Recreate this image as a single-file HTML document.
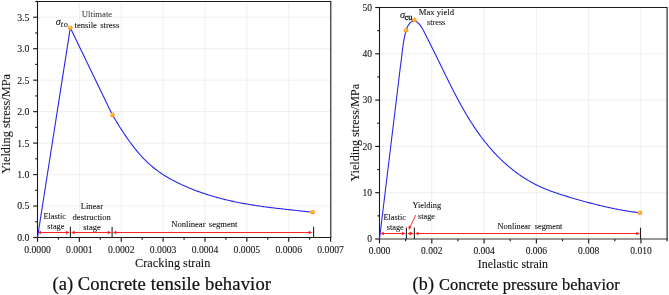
<!DOCTYPE html>
<html><head><meta charset="utf-8"><style>
html,body{margin:0;padding:0;background:#fff;width:669px;height:295px;overflow:hidden}
svg{display:block;will-change:transform}
text{font-family:"Liberation Serif",serif;fill:#111;stroke:#111;stroke-width:0.08px}
.cap{stroke:#111;stroke-width:0.22px}
</style></head><body>
<svg width="669" height="295" viewBox="0 0 669 295">
<defs><radialGradient id="dg" cx="0.4" cy="0.38" r="0.62"><stop offset="0" stop-color="#ffd68a"/><stop offset="0.45" stop-color="#ffa726"/><stop offset="1" stop-color="#ff9800"/></radialGradient></defs>
<rect width="669" height="295" fill="#fff"/>
<line x1="79.37" y1="1.5" x2="79.37" y2="237.5" stroke="#ebebeb" stroke-width="0.8"/>
<line x1="121.24" y1="1.5" x2="121.24" y2="237.5" stroke="#ebebeb" stroke-width="0.8"/>
<line x1="163.11" y1="1.5" x2="163.11" y2="237.5" stroke="#ebebeb" stroke-width="0.8"/>
<line x1="204.99" y1="1.5" x2="204.99" y2="237.5" stroke="#ebebeb" stroke-width="0.8"/>
<line x1="246.86" y1="1.5" x2="246.86" y2="237.5" stroke="#ebebeb" stroke-width="0.8"/>
<line x1="288.73" y1="1.5" x2="288.73" y2="237.5" stroke="#ebebeb" stroke-width="0.8"/>
<line x1="37.5" y1="206.03" x2="330.6" y2="206.03" stroke="#ebebeb" stroke-width="0.8"/>
<line x1="37.5" y1="174.57" x2="330.6" y2="174.57" stroke="#ebebeb" stroke-width="0.8"/>
<line x1="37.5" y1="143.1" x2="330.6" y2="143.1" stroke="#ebebeb" stroke-width="0.8"/>
<line x1="37.5" y1="111.63" x2="330.6" y2="111.63" stroke="#ebebeb" stroke-width="0.8"/>
<line x1="37.5" y1="80.17" x2="330.6" y2="80.17" stroke="#ebebeb" stroke-width="0.8"/>
<line x1="37.5" y1="48.7" x2="330.6" y2="48.7" stroke="#ebebeb" stroke-width="0.8"/>
<line x1="37.5" y1="17.23" x2="330.6" y2="17.23" stroke="#ebebeb" stroke-width="0.8"/>
<line x1="431.79" y1="7.5" x2="431.79" y2="239.0" stroke="#ebebeb" stroke-width="0.8"/>
<line x1="484.08" y1="7.5" x2="484.08" y2="239.0" stroke="#ebebeb" stroke-width="0.8"/>
<line x1="536.37" y1="7.5" x2="536.37" y2="239.0" stroke="#ebebeb" stroke-width="0.8"/>
<line x1="588.66" y1="7.5" x2="588.66" y2="239.0" stroke="#ebebeb" stroke-width="0.8"/>
<line x1="640.95" y1="7.5" x2="640.95" y2="239.0" stroke="#ebebeb" stroke-width="0.8"/>
<line x1="379.5" y1="192.7" x2="667.1" y2="192.7" stroke="#ebebeb" stroke-width="0.8"/>
<line x1="379.5" y1="146.4" x2="667.1" y2="146.4" stroke="#ebebeb" stroke-width="0.8"/>
<line x1="379.5" y1="100.1" x2="667.1" y2="100.1" stroke="#ebebeb" stroke-width="0.8"/>
<line x1="379.5" y1="53.8" x2="667.1" y2="53.8" stroke="#ebebeb" stroke-width="0.8"/>
<line x1="37.5" y1="237.5" x2="37.5" y2="241.7" stroke="#1a1a1a" stroke-width="1.15"/>
<line x1="58.44" y1="237.5" x2="58.44" y2="239.7" stroke="#1a1a1a" stroke-width="1.15"/>
<line x1="79.37" y1="237.5" x2="79.37" y2="241.7" stroke="#1a1a1a" stroke-width="1.15"/>
<line x1="100.31" y1="237.5" x2="100.31" y2="239.7" stroke="#1a1a1a" stroke-width="1.15"/>
<line x1="121.24" y1="237.5" x2="121.24" y2="241.7" stroke="#1a1a1a" stroke-width="1.15"/>
<line x1="142.18" y1="237.5" x2="142.18" y2="239.7" stroke="#1a1a1a" stroke-width="1.15"/>
<line x1="163.11" y1="237.5" x2="163.11" y2="241.7" stroke="#1a1a1a" stroke-width="1.15"/>
<line x1="184.05" y1="237.5" x2="184.05" y2="239.7" stroke="#1a1a1a" stroke-width="1.15"/>
<line x1="204.99" y1="237.5" x2="204.99" y2="241.7" stroke="#1a1a1a" stroke-width="1.15"/>
<line x1="225.92" y1="237.5" x2="225.92" y2="239.7" stroke="#1a1a1a" stroke-width="1.15"/>
<line x1="246.86" y1="237.5" x2="246.86" y2="241.7" stroke="#1a1a1a" stroke-width="1.15"/>
<line x1="267.79" y1="237.5" x2="267.79" y2="239.7" stroke="#1a1a1a" stroke-width="1.15"/>
<line x1="288.73" y1="237.5" x2="288.73" y2="241.7" stroke="#1a1a1a" stroke-width="1.15"/>
<line x1="309.66" y1="237.5" x2="309.66" y2="239.7" stroke="#1a1a1a" stroke-width="1.15"/>
<line x1="330.6" y1="237.5" x2="330.6" y2="241.7" stroke="#1a1a1a" stroke-width="1.15"/>
<line x1="33.2" y1="237.5" x2="37.5" y2="237.5" stroke="#1a1a1a" stroke-width="1.15"/>
<line x1="35.3" y1="221.77" x2="37.5" y2="221.77" stroke="#1a1a1a" stroke-width="1.15"/>
<line x1="33.2" y1="206.03" x2="37.5" y2="206.03" stroke="#1a1a1a" stroke-width="1.15"/>
<line x1="35.3" y1="190.3" x2="37.5" y2="190.3" stroke="#1a1a1a" stroke-width="1.15"/>
<line x1="33.2" y1="174.57" x2="37.5" y2="174.57" stroke="#1a1a1a" stroke-width="1.15"/>
<line x1="35.3" y1="158.83" x2="37.5" y2="158.83" stroke="#1a1a1a" stroke-width="1.15"/>
<line x1="33.2" y1="143.1" x2="37.5" y2="143.1" stroke="#1a1a1a" stroke-width="1.15"/>
<line x1="35.3" y1="127.37" x2="37.5" y2="127.37" stroke="#1a1a1a" stroke-width="1.15"/>
<line x1="33.2" y1="111.63" x2="37.5" y2="111.63" stroke="#1a1a1a" stroke-width="1.15"/>
<line x1="35.3" y1="95.9" x2="37.5" y2="95.9" stroke="#1a1a1a" stroke-width="1.15"/>
<line x1="33.2" y1="80.17" x2="37.5" y2="80.17" stroke="#1a1a1a" stroke-width="1.15"/>
<line x1="35.3" y1="64.43" x2="37.5" y2="64.43" stroke="#1a1a1a" stroke-width="1.15"/>
<line x1="33.2" y1="48.7" x2="37.5" y2="48.7" stroke="#1a1a1a" stroke-width="1.15"/>
<line x1="35.3" y1="32.97" x2="37.5" y2="32.97" stroke="#1a1a1a" stroke-width="1.15"/>
<line x1="33.2" y1="17.23" x2="37.5" y2="17.23" stroke="#1a1a1a" stroke-width="1.15"/>
<line x1="35.3" y1="1.5" x2="37.5" y2="1.5" stroke="#1a1a1a" stroke-width="1.15"/>
<line x1="379.5" y1="239.0" x2="379.5" y2="243.4" stroke="#1a1a1a" stroke-width="1.15"/>
<line x1="405.65" y1="239.0" x2="405.65" y2="241.2" stroke="#1a1a1a" stroke-width="1.15"/>
<line x1="431.79" y1="239.0" x2="431.79" y2="243.4" stroke="#1a1a1a" stroke-width="1.15"/>
<line x1="457.94" y1="239.0" x2="457.94" y2="241.2" stroke="#1a1a1a" stroke-width="1.15"/>
<line x1="484.08" y1="239.0" x2="484.08" y2="243.4" stroke="#1a1a1a" stroke-width="1.15"/>
<line x1="510.23" y1="239.0" x2="510.23" y2="241.2" stroke="#1a1a1a" stroke-width="1.15"/>
<line x1="536.37" y1="239.0" x2="536.37" y2="243.4" stroke="#1a1a1a" stroke-width="1.15"/>
<line x1="562.52" y1="239.0" x2="562.52" y2="241.2" stroke="#1a1a1a" stroke-width="1.15"/>
<line x1="588.66" y1="239.0" x2="588.66" y2="243.4" stroke="#1a1a1a" stroke-width="1.15"/>
<line x1="614.81" y1="239.0" x2="614.81" y2="241.2" stroke="#1a1a1a" stroke-width="1.15"/>
<line x1="640.95" y1="239.0" x2="640.95" y2="243.4" stroke="#1a1a1a" stroke-width="1.15"/>
<line x1="667.1" y1="239.0" x2="667.1" y2="241.2" stroke="#1a1a1a" stroke-width="1.15"/>
<line x1="375.2" y1="239" x2="379.5" y2="239" stroke="#1a1a1a" stroke-width="1.15"/>
<line x1="377.3" y1="215.85" x2="379.5" y2="215.85" stroke="#1a1a1a" stroke-width="1.15"/>
<line x1="375.2" y1="192.7" x2="379.5" y2="192.7" stroke="#1a1a1a" stroke-width="1.15"/>
<line x1="377.3" y1="169.55" x2="379.5" y2="169.55" stroke="#1a1a1a" stroke-width="1.15"/>
<line x1="375.2" y1="146.4" x2="379.5" y2="146.4" stroke="#1a1a1a" stroke-width="1.15"/>
<line x1="377.3" y1="123.25" x2="379.5" y2="123.25" stroke="#1a1a1a" stroke-width="1.15"/>
<line x1="375.2" y1="100.1" x2="379.5" y2="100.1" stroke="#1a1a1a" stroke-width="1.15"/>
<line x1="377.3" y1="76.95" x2="379.5" y2="76.95" stroke="#1a1a1a" stroke-width="1.15"/>
<line x1="375.2" y1="53.8" x2="379.5" y2="53.8" stroke="#1a1a1a" stroke-width="1.15"/>
<line x1="377.3" y1="30.65" x2="379.5" y2="30.65" stroke="#1a1a1a" stroke-width="1.15"/>
<line x1="375.2" y1="7.5" x2="379.5" y2="7.5" stroke="#1a1a1a" stroke-width="1.15"/>
<path d="M37.5 237.5 V1.5 H330.8 V237.5 H37.5" fill="none" stroke="#1a1a1a" stroke-width="1.1"/>
<path d="M379.5 239.0 V7.5 H667.1 V239.0" fill="none" stroke="#1a1a1a" stroke-width="1.1"/>
<line x1="379.0" y1="239.0" x2="667.6" y2="239.0" stroke="#333" stroke-width="1.2"/>
<line x1="38.6" y1="232.5" x2="68.7" y2="232.5" stroke="#ff2222" stroke-width="1.05"/><path d="M69.7 232.5 L66.1 230.7 L66.1 234.3Z" fill="#ff2222"/><path d="M37.6 232.5 L41.2 230.7 L41.2 234.3Z" fill="#ff2222"/>
<line x1="72" y1="232.5" x2="110.4" y2="232.5" stroke="#ff2222" stroke-width="1.05"/><path d="M111.4 232.5 L107.8 230.7 L107.8 234.3Z" fill="#ff2222"/><path d="M71 232.5 L74.6 230.7 L74.6 234.3Z" fill="#ff2222"/>
<line x1="113.8" y1="232.5" x2="311.3" y2="232.5" stroke="#ff2222" stroke-width="1.05"/><path d="M312.3 232.5 L308.7 230.7 L308.7 234.3Z" fill="#ff2222"/><path d="M112.8 232.5 L116.4 230.7 L116.4 234.3Z" fill="#ff2222"/>
<line x1="381.2" y1="233.5" x2="404.6" y2="233.5" stroke="#ff2222" stroke-width="1.05"/><path d="M405.6 233.5 L402 231.7 L402 235.3Z" fill="#ff2222"/><path d="M380.2 233.5 L383.8 231.7 L383.8 235.3Z" fill="#ff2222"/>
<line x1="408.2" y1="233.5" x2="412.8" y2="233.5" stroke="#ff2222" stroke-width="1.05"/><path d="M413.8 233.5 L410.2 231.7 L410.2 235.3Z" fill="#ff2222"/><path d="M407.2 233.5 L410.8 231.7 L410.8 235.3Z" fill="#ff2222"/>
<line x1="416" y1="233.5" x2="638.8" y2="233.5" stroke="#ff2222" stroke-width="1.05"/><path d="M639.8 233.5 L636.2 231.7 L636.2 235.3Z" fill="#ff2222"/><path d="M415 233.5 L418.6 231.7 L418.6 235.3Z" fill="#ff2222"/>
<line x1="415.6" y1="215" x2="410" y2="227.3" stroke="#ff2222" stroke-width="0.9"/>
<path d="M408.7 230 L408.6 225.6 L411.6 227 Z" fill="#ff2222"/>
<line x1="70.4" y1="226.7" x2="70.4" y2="237.5" stroke="#222" stroke-width="1.1"/>
<line x1="112.1" y1="226.7" x2="112.1" y2="237.5" stroke="#222" stroke-width="1.1"/>
<line x1="313.6" y1="226.8" x2="313.6" y2="237.5" stroke="#222" stroke-width="1.1"/>
<line x1="406.4" y1="227.4" x2="406.4" y2="238.9" stroke="#222" stroke-width="1.1"/>
<line x1="414.4" y1="227.4" x2="414.4" y2="238.9" stroke="#222" stroke-width="1.1"/>
<line x1="640.5" y1="227.6" x2="640.5" y2="238.9" stroke="#222" stroke-width="1.1"/>
<path d="M37.5 237.5 L70.3 27.8 L112.4 114.9 L113.76 117.13 L115.01 119.24 L116.27 121.33 L117.53 123.39 L118.78 125.42 L120.04 127.42 L121.3 129.38 L122.55 131.32 L123.81 133.22 L125.07 135.09 L126.32 136.93 L127.58 138.73 L128.84 140.5 L130.09 142.23 L131.35 143.92 L132.61 145.59 L133.86 147.21 L135.12 148.8 L136.38 150.35 L137.63 151.86 L138.89 153.33 L140.15 154.76 L141.4 156.15 L142.66 157.51 L143.92 158.82 L145.17 160.09 L146.43 161.33 L147.68 162.53 L148.94 163.69 L150.2 164.82 L151.45 165.91 L152.71 166.98 L153.97 168.01 L155.22 169 L156.48 169.97 L157.74 170.91 L158.99 171.82 L160.25 172.71 L161.51 173.57 L162.76 174.4 L164.02 175.21 L165.28 176 L166.53 176.77 L167.79 177.51 L169.05 178.24 L170.3 178.95 L171.56 179.64 L172.82 180.31 L174.07 180.96 L175.33 181.61 L176.59 182.23 L177.84 182.85 L179.1 183.45 L180.36 184.04 L181.61 184.63 L182.87 185.2 L184.13 185.76 L185.38 186.32 L186.64 186.86 L187.9 187.4 L189.15 187.92 L190.41 188.44 L191.67 188.95 L192.92 189.45 L194.18 189.94 L195.44 190.42 L196.69 190.9 L197.95 191.36 L199.21 191.82 L200.46 192.27 L201.72 192.71 L202.98 193.14 L204.23 193.56 L205.49 193.98 L206.75 194.39 L208 194.79 L209.26 195.19 L210.52 195.57 L211.77 195.95 L213.03 196.33 L214.28 196.69 L215.54 197.05 L216.8 197.4 L218.05 197.75 L219.31 198.09 L220.57 198.42 L221.82 198.74 L223.08 199.06 L224.34 199.38 L225.59 199.68 L226.85 199.99 L228.11 200.28 L229.36 200.57 L230.62 200.85 L231.88 201.13 L233.13 201.4 L234.39 201.67 L235.65 201.93 L236.9 202.19 L238.16 202.44 L239.42 202.69 L240.67 202.93 L241.93 203.17 L243.19 203.4 L244.44 203.63 L245.7 203.86 L246.96 204.08 L248.21 204.29 L249.47 204.5 L250.73 204.71 L251.98 204.91 L253.24 205.11 L254.5 205.31 L255.75 205.5 L257.01 205.69 L258.27 205.88 L259.52 206.06 L260.78 206.24 L262.04 206.42 L263.29 206.59 L264.55 206.76 L265.81 206.93 L267.06 207.1 L268.32 207.26 L269.58 207.42 L270.83 207.58 L272.09 207.73 L273.35 207.89 L274.6 208.04 L275.86 208.19 L277.12 208.34 L278.37 208.49 L279.63 208.63 L280.88 208.77 L282.14 208.92 L283.4 209.06 L284.65 209.2 L285.91 209.34 L287.17 209.48 L288.42 209.61 L289.68 209.75 L290.94 209.89 L292.19 210.02 L293.45 210.16 L294.71 210.29 L295.96 210.43 L297.22 210.56 L298.48 210.69 L299.73 210.83 L300.99 210.96 L302.25 211.1 L303.5 211.24 L304.76 211.37 L306.02 211.51 L307.27 211.65 L308.53 211.79 L309.79 211.93 L311.04 212.07 L312.3 212.21" fill="none" stroke="#2626ec" stroke-width="1.1" stroke-linejoin="round"/>
<path d="M379.5 239 L400.58 65.03 L400.72 64.06 L400.85 63.1 L400.98 62.15 L401.1 61.21 L401.22 60.27 L401.34 59.35 L401.45 58.43 L401.56 57.52 L401.67 56.61 L401.77 55.71 L401.88 54.81 L401.98 53.92 L402.09 53.03 L402.19 52.15 L402.3 51.27 L402.4 50.39 L402.51 49.51 L402.62 48.63 L402.74 47.76 L402.85 46.88 L402.98 46 L403.1 45.13 L403.23 44.24 L403.37 43.36 L403.51 42.48 L403.65 41.59 L403.81 40.7 L403.97 39.8 L404.13 38.9 L404.31 37.99 L404.49 37.07 L404.69 36.15 L404.89 35.22 L405.1 34.29 L405.33 33.34 L405.57 32.4 L405.82 31.45 L406.09 30.51 L406.39 29.59 L406.71 28.68 L407.05 27.79 L407.43 26.93 L407.84 26.1 L408.29 25.31 L408.77 24.56 L409.3 23.86 L409.87 23.21 L410.49 22.62 L411.16 22.09 L411.88 21.63 L412.64 21.26 L413.42 21.02 L414.2 20.92 L414.97 21 L415.71 21.25 L416.44 21.63 L417.14 22.12 L417.81 22.69 L418.46 23.32 L419.08 23.97 L419.67 24.67 L420.23 25.39 L420.77 26.13 L421.3 26.9 L421.8 27.69 L422.28 28.5 L422.76 29.32 L423.21 30.16 L423.66 31 L424.1 31.85 L424.53 32.7 L424.96 33.55 L425.38 34.39 L425.8 35.23 L426.22 36.07 L426.64 36.89 L427.06 37.72 L427.47 38.54 L427.89 39.36 L428.3 40.18 L428.71 40.99 L429.12 41.8 L429.53 42.61 L429.94 43.42 L430.35 44.22 L430.76 45.03 L431.17 45.84 L431.57 46.65 L431.98 47.46 L432.38 48.27 L432.79 49.08 L433.19 49.89 L433.6 50.7 L434 51.51 L434.4 52.33 L434.8 53.14 L435.21 53.96 L435.61 54.78 L436.01 55.59 L436.41 56.41 L436.81 57.23 L437.21 58.05 L437.61 58.87 L438.01 59.68 L438.41 60.5 L438.81 61.33 L439.21 62.15 L439.61 62.97 L440.01 63.79 L440.41 64.61 L440.81 65.43 L441.21 66.26 L441.61 67.08 L442.01 67.9 L442.41 68.72 L442.81 69.55 L443.21 70.37 L443.61 71.19 L444.02 72.02 L444.42 72.84 L444.82 73.66 L445.22 74.49 L445.63 75.31 L446.03 76.14 L446.44 76.96 L446.84 77.78 L447.25 78.6 L447.65 79.43 L448.06 80.25 L448.47 81.07 L448.88 81.89 L449.29 82.72 L449.7 83.54 L450.11 84.36 L450.52 85.18 L450.93 86 L451.34 86.82 L451.76 87.64 L452.18 88.46 L452.59 89.27 L453.01 90.09 L453.43 90.91 L453.85 91.73 L454.27 92.54 L454.69 93.36 L455.12 94.17 L455.54 94.98 L455.97 95.8 L456.39 96.61 L456.82 97.42 L457.25 98.23 L457.69 99.04 L458.12 99.85 L458.55 100.66 L458.99 101.46 L459.43 102.27 L459.87 103.07 L460.31 103.88 L460.75 104.68 L461.19 105.48 L461.64 106.28 L462.09 107.08 L462.54 107.88 L462.99 108.67 L463.44 109.47 L463.9 110.26 L464.36 111.05 L464.81 111.85 L465.28 112.64 L465.74 113.42 L466.2 114.21 L466.67 115 L467.14 115.78 L467.61 116.56 L468.09 117.34 L468.56 118.12 L469.04 118.9 L469.52 119.68 L470 120.45 L470.49 121.23 L470.98 122 L471.47 122.77 L471.96 123.53 L472.45 124.3 L472.95 125.06 L473.45 125.83 L473.96 126.59 L474.46 127.34 L474.97 128.1 L475.48 128.86 L475.99 129.61 L476.51 130.36 L477.03 131.11 L477.55 131.85 L478.07 132.6 L478.6 133.34 L479.13 134.08 L479.66 134.82 L480.2 135.55 L480.74 136.28 L481.28 137.02 L481.83 137.74 L482.38 138.47 L482.93 139.19 L483.48 139.92 L484.04 140.63 L484.6 141.35 L485.17 142.06 L485.74 142.78 L486.31 143.48 L486.88 144.19 L487.46 144.89 L488.04 145.6 L488.63 146.29 L489.21 146.99 L489.81 147.68 L490.4 148.37 L491 149.06 L491.6 149.75 L492.21 150.43 L492.82 151.11 L493.43 151.78 L494.05 152.46 L494.67 153.13 L495.3 153.79 L495.93 154.46 L496.56 155.12 L497.2 155.78 L497.84 156.43 L498.48 157.08 L499.13 157.73 L499.79 158.38 L500.44 159.02 L501.11 159.66 L501.77 160.29 L502.44 160.93 L503.11 161.55 L503.79 162.18 L504.47 162.8 L505.16 163.42 L505.85 164.03 L506.54 164.64 L507.24 165.25 L507.94 165.85 L508.64 166.45 L509.35 167.05 L510.06 167.64 L510.77 168.22 L511.49 168.81 L512.21 169.38 L512.94 169.96 L513.67 170.53 L514.4 171.09 L515.14 171.65 L515.87 172.21 L516.62 172.76 L517.36 173.3 L518.11 173.84 L518.86 174.38 L519.62 174.91 L520.38 175.44 L521.14 175.96 L521.9 176.47 L522.67 176.98 L523.44 177.49 L524.22 177.99 L524.99 178.48 L525.77 178.97 L526.56 179.45 L527.34 179.93 L528.13 180.4 L528.92 180.87 L529.71 181.33 L530.51 181.79 L531.31 182.23 L532.11 182.68 L532.92 183.11 L533.72 183.54 L534.53 183.97 L535.34 184.39 L536.16 184.8 L536.98 185.2 L537.79 185.6 L538.62 185.99 L539.44 186.38 L540.27 186.76 L541.09 187.14 L541.93 187.51 L542.76 187.87 L543.59 188.23 L544.43 188.58 L545.27 188.93 L546.11 189.27 L546.95 189.61 L547.8 189.94 L548.64 190.27 L549.49 190.59 L550.34 190.91 L551.19 191.23 L552.05 191.54 L552.9 191.85 L553.76 192.15 L554.61 192.45 L555.47 192.75 L556.33 193.05 L557.19 193.34 L558.06 193.62 L558.92 193.91 L559.79 194.19 L560.65 194.47 L561.52 194.75 L562.39 195.02 L563.26 195.3 L564.13 195.57 L565 195.84 L565.87 196.11 L566.74 196.37 L567.62 196.64 L568.49 196.9 L569.37 197.16 L570.24 197.42 L571.12 197.68 L572 197.94 L572.87 198.2 L573.75 198.46 L574.63 198.71 L575.51 198.97 L576.39 199.22 L577.27 199.48 L578.15 199.73 L579.03 199.98 L579.91 200.23 L580.79 200.48 L581.67 200.72 L582.56 200.97 L583.44 201.21 L584.33 201.46 L585.21 201.7 L586.09 201.94 L586.98 202.18 L587.87 202.42 L588.75 202.65 L589.64 202.89 L590.53 203.12 L591.41 203.35 L592.3 203.58 L593.19 203.81 L594.08 204.04 L594.97 204.26 L595.86 204.49 L596.75 204.71 L597.64 204.93 L598.53 205.15 L599.42 205.37 L600.32 205.58 L601.21 205.79 L602.1 206 L603 206.21 L603.89 206.42 L604.78 206.63 L605.68 206.83 L606.57 207.03 L607.47 207.23 L608.36 207.43 L609.26 207.62 L610.15 207.81 L611.05 208.01 L611.95 208.19 L612.85 208.38 L613.74 208.56 L614.64 208.75 L615.54 208.93 L616.44 209.1 L617.34 209.28 L618.24 209.45 L619.13 209.62 L620.03 209.79 L620.93 209.95 L621.83 210.12 L622.74 210.28 L623.64 210.43 L624.54 210.59 L625.44 210.74 L626.34 210.89 L627.24 211.04 L628.14 211.18 L629.05 211.33 L629.95 211.46 L630.85 211.6 L631.76 211.73 L632.66 211.87 L633.56 211.99 L634.47 212.12 L635.37 212.24 L636.27 212.36 L637.18 212.48 L638.08 212.59 L638.99 212.7 L639.89 212.81" fill="none" stroke="#2626ec" stroke-width="1.1" stroke-linejoin="round"/>
<circle cx="70.3" cy="27.8" r="2.3" fill="url(#dg)"/>
<circle cx="112.4" cy="114.9" r="2.3" fill="url(#dg)"/>
<circle cx="312.5" cy="212.3" r="2.3" fill="url(#dg)"/>
<circle cx="406.0" cy="30.3" r="2.3" fill="url(#dg)"/>
<circle cx="414.4" cy="19.9" r="2.3" fill="url(#dg)"/>
<circle cx="639.9" cy="212.8" r="2.3" fill="url(#dg)"/>
<text x="37.5" y="253.2" font-size="9.7" text-anchor="middle">0.0000</text>
<text x="79.37" y="253.2" font-size="9.7" text-anchor="middle">0.0001</text>
<text x="121.24" y="253.2" font-size="9.7" text-anchor="middle">0.0002</text>
<text x="163.11" y="253.2" font-size="9.7" text-anchor="middle">0.0003</text>
<text x="204.99" y="253.2" font-size="9.7" text-anchor="middle">0.0004</text>
<text x="246.86" y="253.2" font-size="9.7" text-anchor="middle">0.0005</text>
<text x="288.73" y="253.2" font-size="9.7" text-anchor="middle">0.0006</text>
<text x="330.6" y="253.2" font-size="9.7" text-anchor="middle">0.0007</text>
<text x="29.4" y="240.9" font-size="9.8" text-anchor="end">0.0</text>
<text x="29.4" y="209.43" font-size="9.8" text-anchor="end">0.5</text>
<text x="29.4" y="177.97" font-size="9.8" text-anchor="end">1.0</text>
<text x="29.4" y="146.5" font-size="9.8" text-anchor="end">1.5</text>
<text x="29.4" y="115.03" font-size="9.8" text-anchor="end">2.0</text>
<text x="29.4" y="83.57" font-size="9.8" text-anchor="end">2.5</text>
<text x="29.4" y="52.1" font-size="9.8" text-anchor="end">3.0</text>
<text x="29.4" y="20.63" font-size="9.8" text-anchor="end">3.5</text>
<text x="379.5" y="254.1" font-size="9.5" text-anchor="middle">0.000</text>
<text x="431.79" y="254.1" font-size="9.5" text-anchor="middle">0.002</text>
<text x="484.08" y="254.1" font-size="9.5" text-anchor="middle">0.004</text>
<text x="536.37" y="254.1" font-size="9.5" text-anchor="middle">0.006</text>
<text x="588.66" y="254.1" font-size="9.5" text-anchor="middle">0.008</text>
<text x="640.95" y="254.1" font-size="9.5" text-anchor="middle">0.010</text>
<text x="371.9" y="242.3" font-size="9.5" text-anchor="end">0</text>
<text x="371.9" y="196" font-size="9.5" text-anchor="end">10</text>
<text x="371.9" y="149.7" font-size="9.5" text-anchor="end">20</text>
<text x="371.9" y="103.4" font-size="9.5" text-anchor="end">30</text>
<text x="371.9" y="57.1" font-size="9.5" text-anchor="end">40</text>
<text x="371.9" y="10.8" font-size="9.5" text-anchor="end">50</text>
<text x="135.1" y="267.4" font-size="12.27">Cracking strain</text>
<text x="477.8" y="267.7" font-size="12">Inelastic strain</text>
<text transform="translate(9.6 173.7) rotate(-90)" font-size="12.35">Yielding stress/MPa</text>
<text transform="translate(359.4 181.5) rotate(-90)" font-size="12.08">Yielding stress/MPa</text>
<text x="52.6" y="290.1" font-size="18.6" class="cap">(a)</text>
<text x="77.8" y="290.1" font-size="18.6" letter-spacing="0.135" class="cap">Concrete tensile behavior</text>
<text x="412.4" y="290.2" font-size="18" letter-spacing="0.3" class="cap">(b)</text>
<text x="438.9" y="290.2" font-size="16.4" letter-spacing="0.06" class="cap">Concrete pressure behavior</text>
<text x="97" y="16.9" font-size="8.7" text-anchor="middle" style="fill:#444;stroke:#444">Ultimate</text>
<text x="74.5" y="27.9" font-size="8.6" word-spacing="1.1">tensile stress</text>
<text x="55.8" y="24.5" font-size="10.2" font-style="italic">σ</text>
<text x="60.7" y="26.6" font-size="8.2" font-style="italic">t</text>
<text x="63.7" y="26.8" font-size="8.4">o</text>
<text x="54.7" y="218.9" font-size="8.3" text-anchor="middle">Elastic</text>
<text x="55.9" y="229" font-size="8.3" text-anchor="middle">stage</text>
<text x="91.9" y="209" font-size="8.5" text-anchor="middle">Linear</text>
<text x="91.7" y="219.6" font-size="8.64" text-anchor="middle">destruction</text>
<text x="92" y="230.1" font-size="8.5" text-anchor="middle">stage</text>
<text x="171.2" y="227.2" font-size="8.6" word-spacing="1.1">Nonlinear segment</text>
<text x="418.8" y="14.5" font-size="8.62">Max yield</text>
<text x="436.2" y="24.6" font-size="8.2" text-anchor="middle">stress</text>
<text x="400.0" y="17.8" font-size="10.3" font-style="italic">σ</text>
<text x="404.6" y="19.8" font-size="8.4" style="stroke:#111;stroke-width:0.35px">cu</text>
<text x="394.7" y="220.1" font-size="8.3" text-anchor="middle">Elastic</text>
<text x="395.3" y="230.4" font-size="8.23" text-anchor="middle">stage</text>
<text x="426.8" y="207.7" font-size="8.27" text-anchor="middle">Yielding</text>
<text x="426.5" y="218.8" font-size="8.23" text-anchor="middle">stage</text>
<text x="497.6" y="229.1" font-size="8.3" word-spacing="1.9">Nonlinear segment</text>
</svg>
</body></html>
